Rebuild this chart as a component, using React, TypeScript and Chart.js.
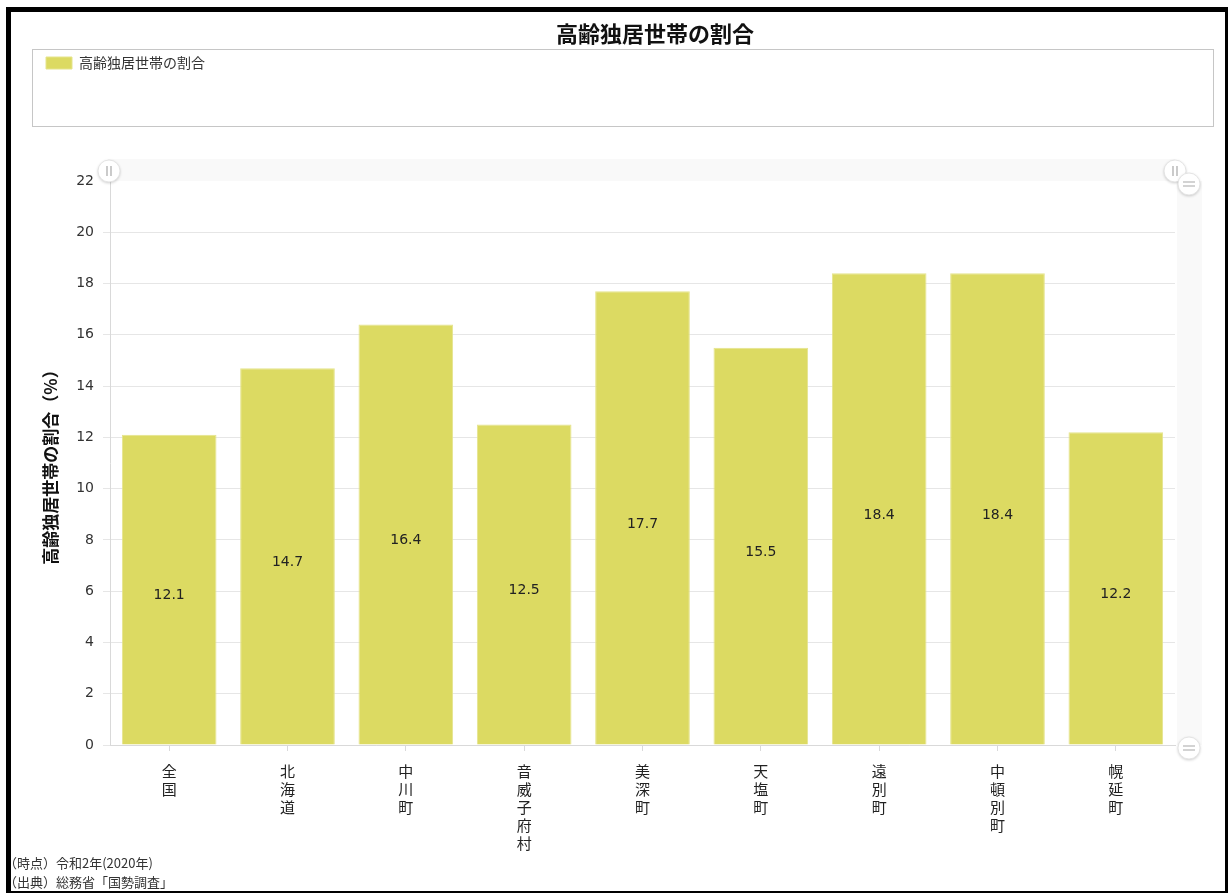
import React, { useEffect, useRef } from 'react';
import { Chart, registerables } from 'chart.js';

Chart.register(...registerables);

const FONT_JP = '"Noto Sans CJK JP", "Noto Sans", sans-serif';
const FONT_NUM = '"DejaVu Sans", "Noto Sans CJK JP", sans-serif';

const chartTitle = '高齢独居世帯の割合';
const seriesName = '高齢独居世帯の割合';
const yAxisTitle = '高齢独居世帯の割合（%）';
const categories = ['全国', '北海道', '中川町', '音威子府村', '美深町', '天塩町', '遠別町', '中頓別町', '幌延町'];
const values = [12.1, 14.7, 16.4, 12.5, 17.7, 15.5, 18.4, 18.4, 12.2];
const yMin = 0;
const yMax = 22;
const yStep = 2;
const notes = ['（時点）令和2年(2020年)', '（出典）総務省「国勢調査」'];

const BAR_COLOR = '#dcda62';

const decorPlugin = {
  id: 'decor',
  beforeDraw(chart: any) {
    const { ctx, chartArea: a } = chart;
    ctx.save();
    ctx.fillStyle = '#f9f9f9';
    ctx.fillRect(a.left - 2, a.top - 22, a.right - a.left + 2, 22);
    ctx.fillRect(a.right + 2, a.top, 25, a.bottom - a.top);
    ctx.restore();
  },
  afterDraw(chart: any) {
    const { ctx, chartArea: a } = chart;
    const knob = (x: number, y: number, vertical: boolean) => {
      ctx.save();
      ctx.shadowColor = 'rgba(0,0,0,0.22)';
      ctx.shadowBlur = 3;
      ctx.shadowOffsetY = 1;
      ctx.beginPath();
      ctx.arc(x, y, 11, 0, Math.PI * 2);
      ctx.fillStyle = '#ffffff';
      ctx.fill();
      ctx.shadowColor = 'transparent';
      ctx.strokeStyle = '#e4e4e4';
      ctx.lineWidth = 1;
      ctx.stroke();
      ctx.strokeStyle = '#a8a8a8';
      ctx.lineWidth = 1.2;
      ctx.beginPath();
      if (vertical) {
        ctx.moveTo(x - 2, y - 5); ctx.lineTo(x - 2, y + 5);
        ctx.moveTo(x + 2, y - 5); ctx.lineTo(x + 2, y + 5);
      } else {
        ctx.moveTo(x - 6, y - 2); ctx.lineTo(x + 6, y - 2);
        ctx.moveTo(x - 6, y + 2); ctx.lineTo(x + 6, y + 2);
      }
      ctx.stroke();
      ctx.restore();
    };
    knob(a.left - 1, a.top - 10, true);
    knob(a.right, a.top - 10, true);
    knob(a.right + 14, a.top + 3, false);
    knob(a.right + 14, a.bottom + 3, false);
  },
};

const valueLabelPlugin = {
  id: 'valueLabels',
  afterDatasetsDraw(chart: any) {
    const { ctx } = chart;
    const meta = chart.getDatasetMeta(0);
    ctx.save();
    ctx.font = `14px ${FONT_NUM}`;
    ctx.fillStyle = '#222';
    ctx.textAlign = 'center';
    ctx.textBaseline = 'middle';
    meta.data.forEach((bar: any, i: number) => {
      const { x, y, base } = bar.getProps(['x', 'y', 'base'], true);
      ctx.fillText(String(values[i]), x, (y + base) / 2 + 6);
    });
    ctx.restore();
  },
};

export default function App() {
  const canvasRef = useRef<HTMLCanvasElement | null>(null);

  useEffect(() => {
    document.body.style.margin = '0';
    const canvas = canvasRef.current;
    if (!canvas) return;
    const chart = new Chart(canvas, {
      type: 'bar',
      data: {
        labels: categories.map((c) => Array.from(c)),
        datasets: [
          {
            label: seriesName,
            data: values,
            backgroundColor: BAR_COLOR,
            borderColor: '#e5e48c',
            borderWidth: 1,
            categoryPercentage: 0.8,
            barPercentage: 1,
          },
        ],
      },
      options: {
        responsive: false,
        animation: false,
        layout: { padding: { left: 36, right: 53, top: 46, bottom: 0 } },
        plugins: {
          title: { display: false },
          subtitle: {
            display: true,
            text: ' ',
            position: 'top',
            weight: 900,
            padding: { top: 89, bottom: 0 },
            font: { size: 10 },
          },
          legend: {
            display: true,
            position: 'top',
            align: 'start',
            labels: {
              boxWidth: 26,
              boxHeight: 12,
              padding: 10,
              color: '#333',
              font: { family: FONT_JP, size: 14 },
            },
          },
          tooltip: { enabled: false },
        },
        scales: {
          x: {
            grid: {
              display: true,
              drawOnChartArea: false,
              offset: false,
              tickLength: 6,
              color: '#d9d9d9',
            },
            border: { color: '#d9d9d9' },
            ticks: {
              font: { family: FONT_JP, size: 15, lineHeight: 1.2 },
              color: '#222',
              padding: 11,
              maxRotation: 0,
              autoSkip: false,
            },
            afterFit: (s: any) => {
              s.height = 148;
            },
          },
          y: {
            min: yMin,
            max: yMax,
            ticks: {
              stepSize: yStep,
              font: { family: FONT_NUM, size: 14 },
              color: '#333',
              padding: 9,
            },
            grid: {
              color: (c: any) => (c.tick && c.tick.value === yMax ? 'rgba(0,0,0,0)' : '#e6e6e6'),
              tickLength: 7,
            },
            border: { color: '#d9d9d9' },
            title: {
              display: true,
              text: yAxisTitle,
              font: { family: FONT_JP, size: 17, weight: 'bold' },
              color: '#111',
              padding: { top: 4, bottom: 0 },
            },
            afterFit: (s: any) => {
              s.width = 74;
            },
          },
        },
      } as any,
      plugins: [decorPlugin, valueLabelPlugin],
    });
    return () => chart.destroy();
  }, []);

  return (
    <div
      style={{
        position: 'absolute',
        left: 0,
        top: 0,
        width: 1228,
        height: 893,
        overflow: 'hidden',
        background: '#fff',
      }}
    >
      <canvas
        ref={canvasRef}
        width={1228}
        height={893}
        style={{ position: 'absolute', left: 0, top: 0, width: 1228, height: 893 }}
      />
      <div
        style={{
          position: 'absolute',
          left: 32,
          top: 49,
          width: 1182,
          height: 78,
          border: '1px solid #c6c6c6',
          boxSizing: 'border-box',
          pointerEvents: 'none',
        }}
      />
      <div
        style={{
          position: 'absolute',
          left: 0,
          top: 18,
          width: 1310,
          textAlign: 'center',
          font: `bold 22px ${FONT_JP}`,
          lineHeight: '28px',
          color: '#111',
        }}
      >
        {chartTitle}
      </div>
      <div
        style={{
          position: 'absolute',
          left: 4,
          top: 853,
          font: `13px ${FONT_JP}`,
          lineHeight: '19px',
          color: '#333',
          whiteSpace: 'nowrap',
        }}
      >
        {notes.map((n) => (
          <div key={n}>{n}</div>
        ))}
      </div>
      <div
        style={{
          position: 'absolute',
          left: 6,
          top: 7,
          width: 1224,
          height: 889,
          border: '5px solid #000',
          boxSizing: 'border-box',
          pointerEvents: 'none',
        }}
      />
    </div>
  );
}
